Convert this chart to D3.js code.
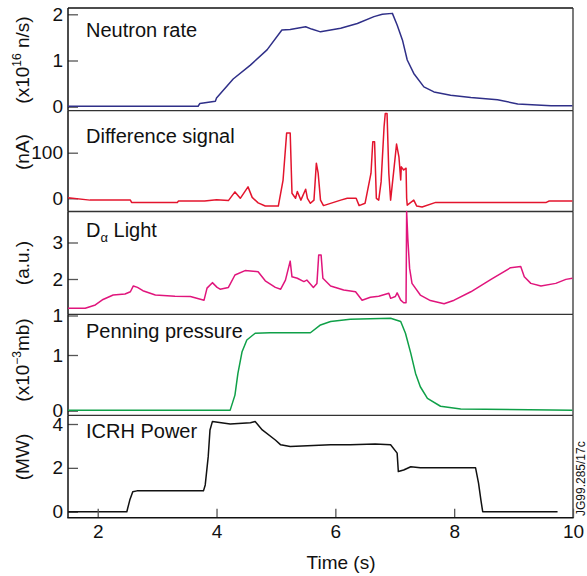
<!DOCTYPE html>
<html>
<head>
<meta charset="utf-8">
<script src="https://cdn.jsdelivr.net/npm/d3@7"></script>
<style>
  body { margin: 0; background: #fff; }
  text { font-family: "Liberation Sans", Arial, Helvetica, sans-serif; fill: #111; }
</style>
</head>
<body>
<script>
// time (s) / value pairs
const neutron = [
  [1.5,0.01],[3.69,0.01],[3.72,0.07],[3.98,0.12],[4.0,0.19],[4.28,0.6],[4.57,0.9],[4.85,1.23],
  [5.1,1.66],[5.24,1.67],[5.5,1.73],[5.6,1.68],[5.75,1.62],[6.09,1.70],[6.37,1.80],[6.65,1.95],
  [6.79,2.0],[6.96,2.02],[7.04,1.77],[7.13,1.44],[7.21,1.01],[7.32,0.72],[7.49,0.43],[7.66,0.32],
  [7.94,0.25],[8.28,0.2],[8.73,0.15],[9.07,0.06],[9.63,0.02],[9.99,0.02]
];
const diffSignal = [
  [1.5,1],[1.87,-4],[2.55,-4],[2.57,-9],[3.34,-9],[3.36,-6],[3.8,-6],[4.0,-3],[4.2,-5],
  [4.31,14],[4.4,0],[4.53,25],[4.6,2],[4.7,-10],[4.82,-17],[5.04,-17],[5.12,40],[5.18,143],
  [5.24,143],[5.27,11],[5.33,0],[5.36,15],[5.42,-4],[5.5,20],[5.53,0],[5.58,-11],[5.64,-4],
  [5.68,77],[5.71,56],[5.75,-4],[5.8,-16],[6.09,-4],[6.2,0],[6.35,0],[6.4,-16],[6.5,-11],
  [6.6,55],[6.63,124],[6.66,124],[6.69,0],[6.73,-4],[6.77,36],[6.82,157],[6.84,186],[6.87,186],
  [6.9,55],[6.93,-4],[6.99,69],[7.03,119],[7.07,91],[7.1,40],[7.11,69],[7.15,62],[7.19,66],
  [7.2,0],[7.21,-15],[7.32,-4],[7.37,-17],[7.46,-19],[7.69,-9],[9.55,-9],[9.6,-6],[9.99,-6]
];
const dAlpha = [
  [1.5,1.2],[1.79,1.2],[1.96,1.29],[2.09,1.44],[2.26,1.56],[2.46,1.59],[2.55,1.65],[2.6,1.81],
  [2.67,1.77],[2.76,1.68],[2.97,1.56],[3.3,1.53],[3.56,1.52],[3.79,1.42],[3.84,1.75],[3.93,1.9],
  [4.01,1.77],[4.06,1.72],[4.2,1.77],[4.31,2.11],[4.48,2.23],[4.7,2.2],[4.82,1.95],[4.99,1.77],
  [5.08,1.72],[5.16,1.97],[5.24,2.49],[5.27,2.06],[5.36,2.02],[5.47,1.93],[5.52,1.97],[5.63,1.77],
  [5.69,1.88],[5.72,2.66],[5.76,2.66],[5.79,2.02],[5.92,1.81],[6.14,1.7],[6.34,1.65],[6.45,1.42],
  [6.59,1.5],[6.73,1.53],[6.9,1.61],[6.93,1.47],[7.01,1.52],[7.04,1.62],[7.1,1.42],[7.15,1.35],
  [7.19,1.35],[7.2,3.85],[7.22,3.1],[7.25,2.29],[7.29,1.88],[7.43,1.56],[7.6,1.41],[7.83,1.32],
  [8.0,1.42],[8.28,1.65],[8.62,1.99],[8.95,2.31],[9.12,2.34],[9.18,2.06],[9.29,1.88],[9.46,1.81],
  [9.71,1.88],[9.88,1.99],[9.99,2.02]
];
const penning = [
  [1.5,0.01],[4.23,0.01],[4.31,0.28],[4.36,0.67],[4.43,1.06],[4.51,1.27],[4.65,1.39],[4.9,1.4],
  [5.58,1.4],[5.75,1.54],[5.92,1.6],[6.25,1.64],[6.93,1.66],[7.1,1.6],[7.18,1.39],[7.27,1.03],
  [7.35,0.67],[7.43,0.43],[7.55,0.22],[7.77,0.08],[8.11,0.03],[9.99,0.01]
];
const icrh = [
  [1.5,0],[2.49,0],[2.54,0.53],[2.59,0.91],[2.66,0.95],[3.78,0.95],[3.81,1.22],[3.86,2.51],
  [3.89,3.73],[3.93,4.11],[4.23,4.0],[4.57,4.06],[4.65,4.11],[4.77,3.73],[4.99,3.27],[5.08,3.05],
  [5.24,2.97],[5.92,3.05],[6.25,3.05],[6.67,3.09],[6.93,3.05],[7.04,2.67],[7.06,1.83],[7.15,1.9],
  [7.27,2.05],[7.43,2.0],[8.36,2.0],[8.41,1.3],[8.45,0.53],[8.48,0],[9.74,0]
];

const xTicks = [2, 4, 6, 8, 10];

const panels = [
  {data: neutron, color: "#2f2f88", label: "Neutron rate", sub: null, tickVals: [0,1,2],
   top: 8, bottom: 110.7, dom: [0,2], rng: [106.7,14.3], labY: 37, unit: ["(x10", "16", " n/s)"], unitY: 60},
  {data: diffSignal, color: "#e3142d", label: "Difference signal", sub: null, tickVals: [0,100],
   top: 110.7, bottom: 211.5, dom: [0,100], rng: [198.3,152.7], labY: 143, unit: ["(nA)"], unitY: 152},
  {data: dAlpha, color: "#e0157c", label: "D", sub: "\u03b1", tickVals: [1,2,3],
   top: 211.5, bottom: 314.3, dom: [1,3], rng: [315.5,242.5], labY: 237, unit: ["(a.u.)"], unitY: 263},
  {data: penning, color: "#0fa048", label: "Penning pressure", sub: null, tickVals: [0,1],
   top: 314.3, bottom: 415.3, dom: [0,1], rng: [410.7,355], labY: 338, unit: ["(x10", "\u22123", "mb)"], unitY: 360},
  {data: icrh, color: "#111", label: "ICRH Power", sub: null, tickVals: [0,2,4],
   top: 415.3, bottom: 517.7, dom: [0,4], rng: [511.7,424], labY: 438, unit: ["(MW)"], unitY: 457}
];

const svg = d3.select("body").append("svg")
  .attr("width", 587).attr("height", 576);

const x = d3.scaleLinear().domain([1.5, 10]).range([68, 573]);

panels.forEach((p, i) => {
  const y = d3.scaleLinear().domain(p.dom).range(p.rng);
  const g = svg.append("g");

  // separator / frame
  g.append("line").attr("x1", 68).attr("x2", 573).attr("y1", p.top).attr("y2", p.top)
    .attr("stroke", i == 0 ? "#111" : "#333").attr("stroke-width", 1.3);
  g.append("line").attr("x1", 573).attr("x2", 573).attr("y1", p.top).attr("y2", p.bottom)
    .attr("stroke", "#333").attr("stroke-width", 1.3);

  const ax = g.append("g").attr("transform", "translate(68,0)")
    .call(d3.axisLeft(y).tickValues(p.tickVals).tickSize(-10).tickPadding(5).tickFormat(d3.format("d")));
  ax.select(".domain").remove();
  ax.selectAll(".tick line").attr("stroke", "#555").attr("stroke-width", 1.3);
  ax.selectAll(".tick text").attr("font-size", 19).attr("fill", "#111")
    .attr("font-family", "Liberation Sans, Arial, sans-serif");

  g.append("line").attr("x1", 68).attr("x2", 68).attr("y1", p.top).attr("y2", p.bottom)
    .attr("stroke", "#111").attr("stroke-width", 1.5);

  const line = d3.line().x(d => x(d[0])).y(d => y(d[1]));
  g.append("path").datum(p.data).attr("d", line)
    .attr("fill", "none").attr("stroke", p.color).attr("stroke-width", 1.5)
    .attr("stroke-linejoin", "round");

  const t = g.append("text").attr("x", 86).attr("y", p.labY).attr("font-size", 20).text(p.label);
  if (p.sub) {
    t.append("tspan").attr("font-size", 13).attr("dy", 5).text(p.sub);
    t.append("tspan").attr("dy", -5).text(" Light");
  }

  // rotated unit label
  const u = g.append("text")
    .attr("transform", `translate(29,${p.unitY}) rotate(-90)`)
    .attr("text-anchor", "middle").attr("font-size", 19);
  if (p.unit.length == 1) {
    u.text(p.unit[0]);
  } else {
    u.append("tspan").text(p.unit[0]);
    u.append("tspan").attr("font-size", 12).attr("dy", -8).text(p.unit[1]);
    u.append("tspan").attr("dy", 8).text(p.unit[2]);
  }
});

// bottom axis
const xa = svg.append("g").attr("transform", "translate(0,517.7)")
  .call(d3.axisBottom(x).tickValues(xTicks).tickSize(-9).tickPadding(7).tickFormat(d3.format("d")));
xa.select(".domain").remove();
xa.selectAll(".tick line").attr("stroke", "#555").attr("stroke-width", 1.3);
xa.selectAll(".tick text").attr("font-size", 19).attr("fill", "#111")
  .attr("font-family", "Liberation Sans, Arial, sans-serif");
svg.append("line").attr("x1", 67.3).attr("x2", 573.6).attr("y1", 517.7).attr("y2", 517.7)
  .attr("stroke", "#111").attr("stroke-width", 1.5);

svg.append("text").attr("x", 341).attr("y", 569).attr("text-anchor", "middle")
  .attr("font-size", 19).text("Time (s)");

svg.append("text").attr("transform", "translate(584.5,516) rotate(-90)")
  .attr("font-size", 12).text("JG99.285/17c");
</script>
</body>
</html>
